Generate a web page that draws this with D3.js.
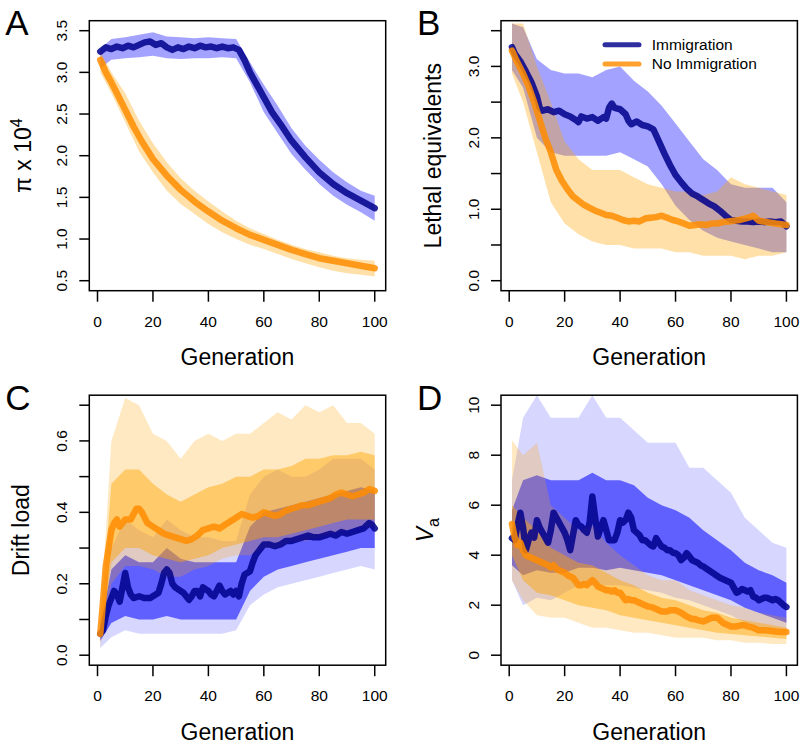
<!DOCTYPE html>
<html>
<head>
<meta charset="utf-8">
<script src="https://cdn.jsdelivr.net/npm/d3@7"></script>
<style>
  body { margin: 0; background: #fff; }
  svg { display: block; font-family: "Liberation Sans", Arial, Helvetica, sans-serif; }
</style>
</head>
<body>
<svg id="chart" width="800" height="746"></svg>
<script>
// generations at which the replicate envelopes were read
const envGens = [1, 5, 10, 15, 20, 25, 30, 35, 40, 45, 50, 55, 60, 65, 70, 75, 80, 85, 90, 95, 100];
const genTicks = [0, 20, 40, 60, 80, 100];

// --- A: nucleotide diversity (pi x 10^4)
const piImmMean = [[1,3.25],[3,3.30],[5,3.28],[7,3.31],[9,3.29],[11,3.32],[13,3.30],[15,3.33],[17,3.36],[19,3.37],[21,3.33],[23,3.35],[25,3.30],[27,3.27],[29,3.30],[31,3.28],[33,3.31],[35,3.29],[37,3.32],[39,3.30],[41,3.31],[43,3.29],[45,3.31],[47,3.29],[49,3.30],[51,3.27],[53,3.15],[55,3.00],[57,2.88],[60,2.70],[63,2.52],[66,2.38],[70,2.18],[75,1.98],[80,1.80],[85,1.66],[90,1.55],[95,1.46],[100,1.37]];
const piNoImmMean = [[1,3.15],[3,3.00],[5,2.88],[7,2.75],[10,2.55],[13,2.35],[16,2.17],[20,1.96],[25,1.76],[30,1.59],[35,1.45],[40,1.33],[45,1.22],[50,1.13],[55,1.05],[60,0.99],[65,0.93],[70,0.87],[75,0.82],[80,0.77],[85,0.74],[90,0.71],[95,0.68],[100,0.65]];
const piImmHi = [3.28,3.40,3.42,3.45,3.48,3.43,3.42,3.41,3.42,3.41,3.40,3.12,2.85,2.60,2.33,2.12,1.95,1.80,1.68,1.58,1.52];
const piImmLo = [3.05,3.15,3.17,3.18,3.20,3.17,3.16,3.17,3.17,3.18,3.17,2.88,2.52,2.27,2.02,1.83,1.66,1.52,1.41,1.32,1.22];
const piNoImmHi = [3.25,3.00,2.75,2.42,2.15,1.92,1.73,1.58,1.45,1.33,1.22,1.13,1.06,0.99,0.93,0.88,0.84,0.80,0.77,0.75,0.74];
const piNoImmLo = [3.00,2.75,2.40,2.05,1.80,1.58,1.42,1.30,1.18,1.08,1.00,0.93,0.88,0.82,0.76,0.71,0.66,0.62,0.59,0.57,0.55];

// --- B: lethal equivalents
const leImmMean = [[1,3.27],[2,3.18],[4,3.07],[6,2.93],[8,2.78],[10,2.58],[11,2.42],[12,2.38],[14,2.40],[16,2.36],[18,2.38],[20,2.33],[22,2.30],[24,2.25],[25,2.22],[26,2.30],[28,2.27],[30,2.29],[32,2.24],[34,2.29],[35,2.27],[36,2.42],[37,2.48],[38,2.42],[40,2.40],[42,2.33],[43,2.24],[44,2.19],[46,2.23],[48,2.18],[50,2.16],[52,2.12],[54,1.95],[56,1.78],[58,1.62],[60,1.48],[62,1.38],[64,1.29],[66,1.22],[68,1.18],[70,1.13],[72,1.08],[74,1.04],[76,0.98],[78,0.91],[80,0.85],[82,0.84],[84,0.83],[86,0.83],[88,0.82],[90,0.83],[92,0.82],[94,0.83],[96,0.82],[98,0.83],[100,0.76]];
const leNoImmMean = [[1,3.22],[3,3.05],[5,2.90],[7,2.72],[9,2.50],[11,2.25],[13,2.00],[15,1.80],[17,1.55],[19,1.40],[21,1.28],[23,1.18],[25,1.12],[27,1.06],[29,1.02],[31,0.98],[33,0.95],[35,0.92],[37,0.91],[39,0.88],[41,0.85],[43,0.83],[45,0.84],[47,0.83],[49,0.87],[51,0.88],[53,0.89],[55,0.91],[57,0.88],[59,0.85],[61,0.83],[63,0.80],[65,0.77],[67,0.78],[69,0.79],[71,0.78],[73,0.80],[75,0.80],[77,0.82],[79,0.83],[81,0.84],[83,0.85],[85,0.87],[87,0.89],[88,0.91],[90,0.84],[93,0.82],[96,0.80],[100,0.78]];
const leImmHi = [3.60,3.55,3.10,2.95,2.90,2.90,2.85,2.95,3.00,2.80,2.65,2.45,2.20,1.95,1.70,1.55,1.35,1.30,1.30,1.30,1.10];
const leImmLo = [2.95,2.70,2.00,1.80,1.75,1.75,1.75,1.75,1.80,1.70,1.60,1.35,1.05,0.85,0.70,0.60,0.55,0.50,0.45,0.40,0.40];
const leNoImmHi = [3.60,3.60,3.00,2.50,1.95,1.70,1.55,1.55,1.55,1.45,1.35,1.30,1.25,1.25,1.20,1.25,1.45,1.35,1.30,1.25,1.20];
const leNoImmLo = [2.90,2.50,1.80,1.10,0.80,0.65,0.55,0.50,0.50,0.45,0.45,0.45,0.40,0.40,0.35,0.35,0.35,0.30,0.35,0.35,0.40];

// --- C: drift load
const dlImmMean = [[1,0.06],[2,0.07],[3,0.11],[4,0.14],[5,0.16],[6,0.18],[7,0.17],[8,0.15],[9,0.19],[10,0.23],[11,0.19],[12,0.17],[13,0.16],[15,0.165],[17,0.16],[19,0.16],[21,0.17],[22,0.175],[23,0.20],[24,0.23],[25,0.24],[26,0.23],[27,0.20],[28,0.19],[30,0.18],[31,0.175],[33,0.155],[34,0.165],[35,0.18],[36,0.18],[37,0.165],[38,0.19],[39,0.185],[40,0.18],[41,0.17],[42,0.165],[43,0.18],[44,0.195],[45,0.18],[46,0.17],[47,0.175],[48,0.18],[49,0.17],[50,0.18],[51,0.165],[52,0.20],[53,0.225],[54,0.23],[55,0.235],[56,0.26],[57,0.28],[58,0.29],[59,0.30],[60,0.31],[62,0.31],[64,0.305],[66,0.31],[68,0.32],[70,0.32],[72,0.325],[74,0.33],[76,0.335],[78,0.33],[80,0.33],[82,0.335],[84,0.34],[86,0.335],[88,0.345],[90,0.34],[92,0.345],[94,0.35],[96,0.355],[98,0.37],[99,0.365],[100,0.355]];
const dlNoImmMean = [[1,0.06],[2,0.15],[3,0.25],[4,0.30],[5,0.35],[6,0.37],[7,0.38],[8,0.36],[10,0.38],[12,0.38],[14,0.41],[15,0.41],[16,0.40],[18,0.37],[20,0.36],[22,0.35],[24,0.34],[26,0.335],[28,0.33],[30,0.325],[32,0.32],[34,0.325],[36,0.335],[38,0.35],[40,0.355],[42,0.36],[44,0.355],[46,0.365],[48,0.375],[50,0.385],[52,0.395],[54,0.39],[56,0.385],[58,0.39],[60,0.40],[62,0.395],[64,0.39],[66,0.395],[68,0.405],[70,0.41],[72,0.415],[74,0.42],[76,0.42],[78,0.425],[80,0.43],[82,0.435],[84,0.44],[86,0.45],[88,0.455],[90,0.45],[92,0.445],[94,0.45],[96,0.455],[98,0.465],[100,0.46]];
const dlImmHi = [0.10,0.30,0.38,0.35,0.33,0.38,0.35,0.33,0.33,0.32,0.32,0.45,0.50,0.52,0.50,0.50,0.52,0.55,0.55,0.55,0.52];
const dlImmLo = [0.02,0.05,0.07,0.06,0.06,0.06,0.06,0.06,0.06,0.06,0.07,0.14,0.17,0.19,0.20,0.21,0.22,0.23,0.24,0.25,0.24];
const dlImmCoreHi = [0.08,0.24,0.28,0.26,0.26,0.30,0.27,0.26,0.26,0.26,0.26,0.36,0.40,0.41,0.42,0.43,0.44,0.45,0.46,0.47,0.46];
const dlImmCoreLo = [0.04,0.09,0.11,0.10,0.10,0.11,0.10,0.10,0.10,0.10,0.10,0.18,0.22,0.24,0.25,0.26,0.27,0.28,0.29,0.30,0.30];
const dlNoImmHi = [0.10,0.60,0.72,0.70,0.62,0.60,0.55,0.60,0.62,0.60,0.62,0.62,0.65,0.68,0.66,0.70,0.68,0.70,0.65,0.65,0.62];
const dlNoImmLo = [0.02,0.20,0.25,0.25,0.24,0.22,0.22,0.24,0.25,0.27,0.28,0.28,0.30,0.30,0.32,0.32,0.33,0.34,0.35,0.36,0.36];
const dlNoImmCoreHi = [0.08,0.48,0.52,0.52,0.48,0.45,0.43,0.45,0.47,0.48,0.50,0.50,0.52,0.52,0.53,0.55,0.55,0.56,0.56,0.57,0.56];
const dlNoImmCoreLo = [0.04,0.26,0.30,0.30,0.28,0.27,0.26,0.27,0.28,0.30,0.31,0.32,0.33,0.33,0.34,0.35,0.36,0.37,0.38,0.38,0.38];

// --- D: additive genetic variance
const vaImmMean = [[1,4.68],[2,4.6],[3,5.2],[4,5.7],[5,5.1],[6,4.2],[7,4.6],[8,4.9],[9,4.7],[10,5.4],[11,5.1],[12,4.9],[13,4.7],[14,4.5],[15,5.0],[16,5.7],[17,5.5],[18,5.3],[19,5.1],[20,4.9],[21,4.6],[22,4.2],[23,4.8],[24,5.4],[25,5.2],[26,5.15],[27,5.0],[28,4.9],[29,5.3],[30,6.35],[31,5.5],[32,4.75],[33,5.1],[34,5.4],[35,5.0],[36,4.6],[37,4.6],[38,4.6],[39,4.9],[40,5.4],[41,5.3],[42,5.4],[43,5.7],[44,5.5],[45,5.0],[46,4.9],[47,4.8],[48,4.6],[49,4.6],[50,4.5],[51,4.4],[52,4.35],[53,4.68],[54,4.5],[55,4.35],[56,4.3],[57,4.2],[58,4.2],[59,4.1],[60,4.08],[61,4.0],[62,3.8],[63,3.9],[64,4.08],[65,3.95],[66,3.8],[67,3.75],[68,3.7],[69,3.6],[70,3.55],[72,3.4],[74,3.25],[76,3.1],[78,3.0],[79,2.95],[80,2.9],[81,2.7],[82,2.5],[83,2.55],[84,2.65],[85,2.6],[86,2.55],[87,2.6],[88,2.35],[89,2.3],[90,2.2],[91,2.25],[92,2.3],[93,2.3],[94,2.25],[95,2.2],[96,2.25],[97,2.2],[98,2.1],[99,2.0],[100,1.93]];
const vaNoImmMean = [[1,5.25],[2,4.7],[3,4.4],[4,4.5],[5,4.2],[6,4.0],[8,3.9],[10,3.8],[12,3.7],[14,3.6],[15,3.5],[16,3.6],[17,3.45],[18,3.4],[19,3.35],[20,3.3],[21,3.2],[22,3.15],[23,3.1],[24,2.95],[25,2.8],[26,2.8],[27,2.85],[28,2.8],[29,2.9],[30,3.0],[31,2.9],[32,2.75],[33,2.7],[34,2.65],[35,2.6],[36,2.6],[37,2.55],[38,2.6],[39,2.5],[40,2.5],[41,2.35],[42,2.2],[43,2.25],[44,2.2],[45,2.2],[46,2.15],[47,2.1],[48,2.05],[50,1.95],[52,1.9],[54,1.8],[55,1.75],[57,1.75],[58,1.8],[60,1.8],[62,1.7],[64,1.55],[65,1.5],[66,1.45],[67,1.45],[68,1.4],[70,1.35],[72,1.45],[73,1.5],[75,1.5],[76,1.4],[77,1.3],[78,1.25],[80,1.15],[82,1.15],[84,1.2],[85,1.2],[86,1.15],[88,1.1],[90,1.0],[92,1.0],[94,0.98],[96,0.95],[98,0.93],[100,0.93]];
const vaImmHi = [7.0,9.5,10.4,9.5,9.5,9.5,10.4,9.5,9.5,9.0,8.5,8.5,8.5,7.5,7.5,7.0,6.5,5.5,5.0,4.5,4.3];
const vaImmLo = [3.0,2.0,2.3,2.2,2.5,2.8,2.8,2.8,2.8,2.7,2.6,2.5,2.3,2.2,2.0,1.8,1.6,1.3,1.1,1.0,1.0];
const vaImmCoreHi = [5.8,7.0,7.2,7.0,7.0,7.0,7.3,7.0,7.0,6.8,6.3,6.0,5.8,5.5,5.0,4.6,4.2,3.7,3.4,3.2,2.9];
const vaImmCoreLo = [3.6,3.2,3.4,3.3,3.3,3.5,3.5,3.4,3.5,3.4,3.3,3.2,3.0,2.8,2.6,2.4,2.2,1.9,1.7,1.5,1.3];
const vaNoImmHi = [8.6,8.0,8.5,6.0,5.5,5.0,5.2,4.5,4.0,3.6,3.2,3.0,3.0,2.6,2.4,2.2,2.0,1.9,1.7,1.6,1.5];
const vaNoImmLo = [3.0,2.2,1.6,1.5,1.5,1.3,1.1,1.1,1.0,0.9,0.9,0.8,0.7,0.7,0.7,0.6,0.6,0.5,0.5,0.45,0.45];
const vaNoImmCoreHi = [6.0,5.5,5.0,4.3,4.0,3.7,3.6,3.3,3.0,2.8,2.5,2.3,2.2,2.0,1.8,1.7,1.5,1.4,1.3,1.2,1.1];
const vaNoImmCoreLo = [4.0,3.0,2.5,2.4,2.2,2.0,1.9,1.8,1.6,1.5,1.4,1.3,1.2,1.1,1.0,0.9,0.85,0.8,0.75,0.7,0.65];

const legendLabels = ['Immigration', 'No Immigration'];

const panels = [
  { letter: 'A', col: 0, row: 0, ylim: [0.5, 3.5], yTicks: d3.range(0.5, 3.51, 0.5), yLabelTicks: d3.range(0.5, 3.51, 0.5), fmt: d3.format('.1f'),
    imm: { mean: piImmMean, hi: piImmHi, lo: piImmLo }, noImm: { mean: piNoImmMean, hi: piNoImmHi, lo: piNoImmLo } },
  { letter: 'B', col: 1, row: 0, ylim: [0, 3.5], yTicks: d3.range(0, 3.51, 0.5), yLabelTicks: [0, 1, 2, 3], fmt: d3.format('.1f'),
    imm: { mean: leImmMean, hi: leImmHi, lo: leImmLo }, noImm: { mean: leNoImmMean, hi: leNoImmHi, lo: leNoImmLo } },
  { letter: 'C', col: 0, row: 1, ylim: [0, 0.7], yTicks: d3.range(0, 0.71, 0.1), yLabelTicks: [0, 0.2, 0.4, 0.6], fmt: d3.format('.1f'),
    imm: { mean: dlImmMean, hi: dlImmHi, lo: dlImmLo, coreHi: dlImmCoreHi, coreLo: dlImmCoreLo },
    noImm: { mean: dlNoImmMean, hi: dlNoImmHi, lo: dlNoImmLo, coreHi: dlNoImmCoreHi, coreLo: dlNoImmCoreLo } },
  { letter: 'D', col: 1, row: 1, ylim: [0, 10], yTicks: d3.range(0, 10.1, 2), yLabelTicks: d3.range(0, 10.1, 2), fmt: d3.format('d'),
    imm: { mean: vaImmMean, hi: vaImmHi, lo: vaImmLo, coreHi: vaImmCoreHi, coreLo: vaImmCoreLo },
    noImm: { mean: vaNoImmMean, hi: vaNoImmHi, lo: vaNoImmLo, coreHi: vaNoImmCoreHi, coreLo: vaNoImmCoreLo } }
];

const colLeft = [89.3, 501];
const rowTop = [20.7, 395.2];
const boxW = 296.4, boxH = 270;

const blue = 'rgb(0,0,255)', orange = 'rgb(255,165,0)';
const blueMean = 'rgb(0,0,139)', orangeMean = 'rgb(255,140,0)';

// R-style axis range: data range padded by 4% on each side
function rScale(lo, hi, r0, r1) {
  const pad = (hi - lo) * 0.04;
  return d3.scaleLinear().domain([lo - pad, hi + pad]).range([r0, r1]);
}

const svg = d3.select('#chart');

panels.forEach((p, idx) => {
  const g = svg.append('g').attr('transform', `translate(${colLeft[p.col]},${rowTop[p.row]})`);
  const x = rScale(1, 100, 0, boxW);
  const y = rScale(p.ylim[0], p.ylim[1], boxH, 0);

  const clipId = 'clip' + idx;
  g.append('clipPath').attr('id', clipId)
    .append('rect').attr('width', boxW).attr('height', boxH);
  const plot = g.append('g').attr('clip-path', `url(#${clipId})`);

  const band = (hi, lo) => d3.area()
    .x((d, i) => x(envGens[i]))
    .y0((d, i) => y(lo[i]))
    .y1((d, i) => y(hi[i]))(hi);

  const hasCore = !!p.imm.coreHi;
  // replicate clouds: immigration first, then no immigration
  [[p.imm, blue], [p.noImm, orange]].forEach(([s, c]) => {
    const isBlue = c === blue;
    plot.append('path').attr('d', band(s.hi, s.lo))
      .attr('fill', c).attr('fill-opacity', hasCore ? (isBlue ? 0.16 : 0.24) : (isBlue ? 0.36 : 0.34));
    if (hasCore) {
      plot.append('path').attr('d', band(s.coreHi, s.coreLo))
        .attr('fill', c).attr('fill-opacity', isBlue ? 0.55 : 0.45);
    }
  });

  const line = d3.line().x(d => x(d[0])).y(d => y(d[1]));
  [[p.imm.mean, blueMean], [p.noImm.mean, orangeMean]].forEach(([m, c]) => {
    plot.append('path').attr('d', line(m))
      .attr('fill', 'none').attr('stroke', c).attr('stroke-opacity', 0.85)
      .attr('stroke-width', 6.5).attr('stroke-linecap', 'round').attr('stroke-linejoin', 'round');
  });

  // box
  g.append('rect').attr('width', boxW).attr('height', boxH)
    .attr('fill', 'none').attr('stroke', '#000').attr('stroke-width', 1.5);

  // x axis
  genTicks.forEach(t => {
    g.append('line').attr('x1', x(t)).attr('x2', x(t)).attr('y1', boxH).attr('y2', boxH + 11)
      .attr('stroke', '#000').attr('stroke-width', 1.5);
    g.append('text').attr('x', x(t)).attr('y', boxH + 36)
      .attr('text-anchor', 'middle').attr('font-size', 15.5).text(t);
  });

  // y axis (labels parallel to the axis, R style)
  p.yTicks.forEach(t => {
    g.append('line').attr('x1', -10).attr('x2', 0).attr('y1', y(t)).attr('y2', y(t))
      .attr('stroke', '#000').attr('stroke-width', 1.5);
  });
  p.yLabelTicks.forEach(t => {
    g.append('text').attr('transform', `translate(-22.5,${y(t)}) rotate(-90)`)
      .attr('text-anchor', 'middle').attr('font-size', 15.5).text(p.fmt(t));
  });

  g.append('text').attr('x', boxW / 2).attr('y', boxH + 74.5)
    .attr('text-anchor', 'middle').attr('font-size', 23).text('Generation');

  const yl = g.append('text').attr('text-anchor', 'middle').attr('font-size', 23);
  if (p.letter === 'A') {
    yl.attr('transform', `translate(-58,${boxH / 2}) rotate(-90)`);
    yl.append('tspan').text('π x 10');
    yl.append('tspan').attr('dy', -9).attr('font-size', 16).text('4');
  } else if (p.letter === 'B') {
    yl.attr('transform', `translate(-60,${boxH / 2}) rotate(-90)`).text('Lethal equivalents');
  } else if (p.letter === 'C') {
    yl.attr('transform', `translate(-60,${boxH / 2}) rotate(-90)`).text('Drift load');
  } else {
    yl.attr('transform', `translate(-68,${boxH / 2}) rotate(-90)`);
    yl.append('tspan').attr('font-style', 'italic').text('V');
    yl.append('tspan').attr('dy', 6).attr('font-size', 16).text('a');
  }

  // panel letter
  svg.append('text').attr('x', colLeft[p.col] - 84).attr('y', rowTop[p.row] + 14.5)
    .attr('font-size', 35).text(p.letter);

  if (p.letter === 'B') {
    const lg = g.append('g').attr('transform', 'translate(104,24)');
    legendLabels.forEach((lab, i) => {
      const c = i === 0 ? blueMean : orangeMean;
      lg.append('line').attr('x1', 0).attr('x2', 34).attr('y1', i * 19.3).attr('y2', i * 19.3)
        .attr('stroke', c).attr('stroke-opacity', 0.82).attr('stroke-width', 5).attr('stroke-linecap', 'round');
      lg.append('text').attr('x', 46.7).attr('y', i * 19.3).attr('dy', '0.35em')
        .attr('font-size', 15.5).text(lab);
    });
  }
});
</script>
</body>
</html>
